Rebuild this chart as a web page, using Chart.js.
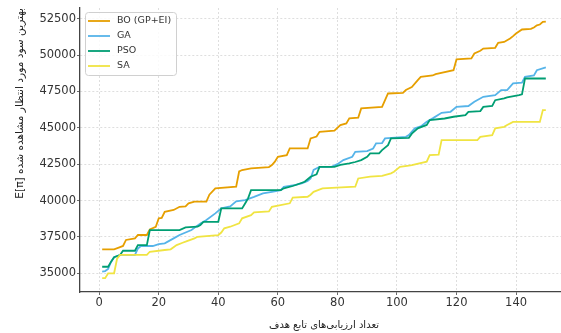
<!DOCTYPE html>
<html lang="fa">
<head>
<meta charset="UTF-8">
<title>BO vs GA vs PSO vs SA</title>
<style>
  html, body { margin: 0; padding: 0; background: #fff; overflow: hidden; }
  #wrap { width: 600px; height: 333px; }
</style>
</head>
<body>
<div id="wrap"><canvas id="chart" width="600" height="333"></canvas></div>
<script src="https://cdn.jsdelivr.net/npm/chart.js"></script>
<script>
// series (corner points of each staircase)
const seriesNames = ['BO (GP+EI)', 'GA', 'PSO', 'SA'];
const seriesColors = ['#E69F00', '#56B4E9', '#009E73', '#F0E442'];

const boX = [1,5,7,8,9,12,13,16,17,19,20,21,22,25,27,29,30,32,36,37,39,46,47,48,51,57,58,59,60,63,64,70,71,73,74,79,81,83,84,87,88,95,96,97,102,103,105,107,108,112,113,119,120,125,126,128,129,133,134,136,138,139,140,142,145,146,147,148,149,150];
const boY = [36650,36650,36800,36880,37290,37400,37630,37630,38020,38200,38780,38800,39230,39350,39570,39600,39810,39920,39920,40400,40840,40950,42000,42100,42210,42300,42440,42670,43010,43120,43580,43580,44270,44400,44730,44800,45190,45300,45650,45700,46330,46440,46900,47360,47400,47600,47800,48280,48500,48600,48690,48960,49700,49770,50110,50300,50450,50500,50840,50900,51140,51300,51480,51760,51800,51900,52050,52100,52280,52300];

const gaX = [1,2,3,4,5,7,12,13,14,18,20,22,25,27,31,34,36,39,41,44,46,49,52,55,58,61,62,66,68,70,71,72,74,78,80,82,85,86,90,92,93,95,96,103,104,106,108,110,112,115,118,120,124,126,129,133,135,137,139,142,143,146,147,150];
const gaY = [35110,35150,35300,35800,36100,36260,36260,36700,36875,36875,37000,37060,37400,37630,37970,38430,38660,39120,39460,39600,39950,40030,40250,40490,40600,40720,40950,41070,41180,41350,41520,42100,42320,42320,42500,42780,43010,43350,43400,43580,43930,43950,44270,44380,44500,44960,45100,45410,45650,46030,46100,46440,46500,46790,47130,47250,47590,47600,48050,48100,48500,48600,48960,49150];

const psoX = [1,3,4,5,7,8,12,13,16,17,27,29,33,34,35,40,41,48,49,50,51,61,62,65,66,69,71,73,74,79,81,84,86,88,90,91,94,95,97,98,104,105,107,110,111,116,119,123,124,128,129,132,133,136,137,141,142,143,150];
const psoY = [35450,35450,35800,36100,36250,36550,36550,36940,36940,37970,37970,38160,38200,38320,38540,38540,39460,39460,39800,40150,40720,40720,40840,41000,41070,41290,41640,41800,42320,42320,42450,42550,42650,42780,43000,43240,43240,43470,43810,44270,44310,44600,44960,45200,45530,45640,45760,45870,46100,46150,46440,46500,46900,47020,47090,47250,47300,48390,48390];

const saX = [1,2,3,5,6,7,16,17,22,24,26,28,29,32,33,40,41,42,44,47,48,51,52,57,58,64,65,70,71,72,75,86,87,91,95,98,99,101,104,105,110,111,114,115,127,128,132,133,136,137,139,148,149,150];
const saY = [34660,34660,35000,35000,36000,36260,36260,36480,36600,36650,36940,37100,37170,37400,37510,37630,37800,38090,38200,38430,38780,39000,39190,39250,39570,39810,40200,40260,40400,40600,40840,40950,41520,41640,41700,41870,41980,42320,42400,42440,42670,43120,43150,44160,44160,44380,44500,44960,45070,45190,45410,45410,46220,46220];

const xTicks = [0, 20, 40, 60, 80, 100, 120, 140];
const yTicks = [35000, 37500, 40000, 42500, 45000, 47500, 50000, 52500];

const xLabel = 'تعداد ارزیابی‌های تابع هدف';
const yLabel = 'بهترین سود مورد انتظار مشاهده شده E[π]';

const allX = [boX, gaX, psoX, saX];
const allY = [boY, gaY, psoY, saY];

const datasets = seriesNames.map((name, k) => ({
  label: name,
  data: allX[k].map((x, i) => ({ x: x, y: allY[k][i] })),
  borderColor: seriesColors[k],
  borderWidth: 1.8,
  pointRadius: 0,
  tension: 0,
  fill: false,
  order: 4 - k
}));

// legend box inside the plot, top-left
const boxLegend = {
  id: 'boxLegend',
  afterDraw(chart) {
    const ctx = chart.ctx;
    const x0 = 85, y0 = 12, w = 91, h = 63;
    ctx.save();
    ctx.fillStyle = 'rgba(255,255,255,0.85)';
    ctx.strokeStyle = '#d0d0d0';
    ctx.lineWidth = 1;
    ctx.beginPath();
    ctx.roundRect(x0 + 0.5, y0 + 0.5, w, h, 3);
    ctx.fill();
    ctx.stroke();
    ctx.font = '9.5px "DejaVu Sans"';
    ctx.textBaseline = 'middle';
    seriesNames.forEach((name, k) => {
      const yy = y0 + 9 + k * 15;
      ctx.strokeStyle = seriesColors[k];
      ctx.lineWidth = 1.8;
      ctx.beginPath();
      ctx.moveTo(x0 + 3, yy);
      ctx.lineTo(x0 + 25, yy);
      ctx.stroke();
      ctx.fillStyle = '#333';
      ctx.fillText(name, x0 + 32, yy);
    });
    ctx.restore();
  }
};

const tickFont = { family: 'DejaVu Sans', size: 11.5 };
const plain = v => String(v);

new Chart(document.getElementById('chart'), {
  type: 'line',
  data: { datasets: datasets },
  options: {
    responsive: false,
    animation: false,
    layout: { padding: { top: 8, right: 32, left: 0, bottom: 0 } },
    plugins: { legend: { display: false }, tooltip: { enabled: false } },
    scales: {
      x: {
        type: 'linear',
        min: -6.45,
        max: 157.45,
        afterBuildTicks: s => { s.ticks = xTicks.map(v => ({ value: v })); },
        afterFit: s => { s.height = 41; },
        ticks: { font: tickFont, color: '#333', padding: 1, maxRotation: 0, callback: plain },
        grid: { color: '#d6d6d6', tickColor: '#444', tickLength: 3, lineWidth: 0.8 },
        border: { color: '#444', width: 1.3, dash: [2, 2] },
        title: { display: true, text: xLabel, font: { family: 'DejaVu Sans', size: 10 }, color: '#222', padding: { top: 0, bottom: 2 } }
      },
      y: {
        type: 'linear',
        min: 33713,
        max: 53237,
        afterBuildTicks: s => { s.ticks = yTicks.map(v => ({ value: v })); },
        afterFit: s => { s.width = 80; },
        ticks: { font: tickFont, color: '#333', padding: 1, callback: plain },
        grid: { color: '#d6d6d6', tickColor: '#444', tickLength: 3, lineWidth: 0.8 },
        border: { color: '#444', width: 1.3, dash: [2, 2] },
        title: { display: true, text: '\u202B' + yLabel + '\u202C', align: 'end', font: { family: 'DejaVu Sans', size: 10.6 }, color: '#222', padding: { top: 14, bottom: 0 } }
      }
    }
  },
  plugins: [boxLegend]
});
</script>
</body>
</html>
